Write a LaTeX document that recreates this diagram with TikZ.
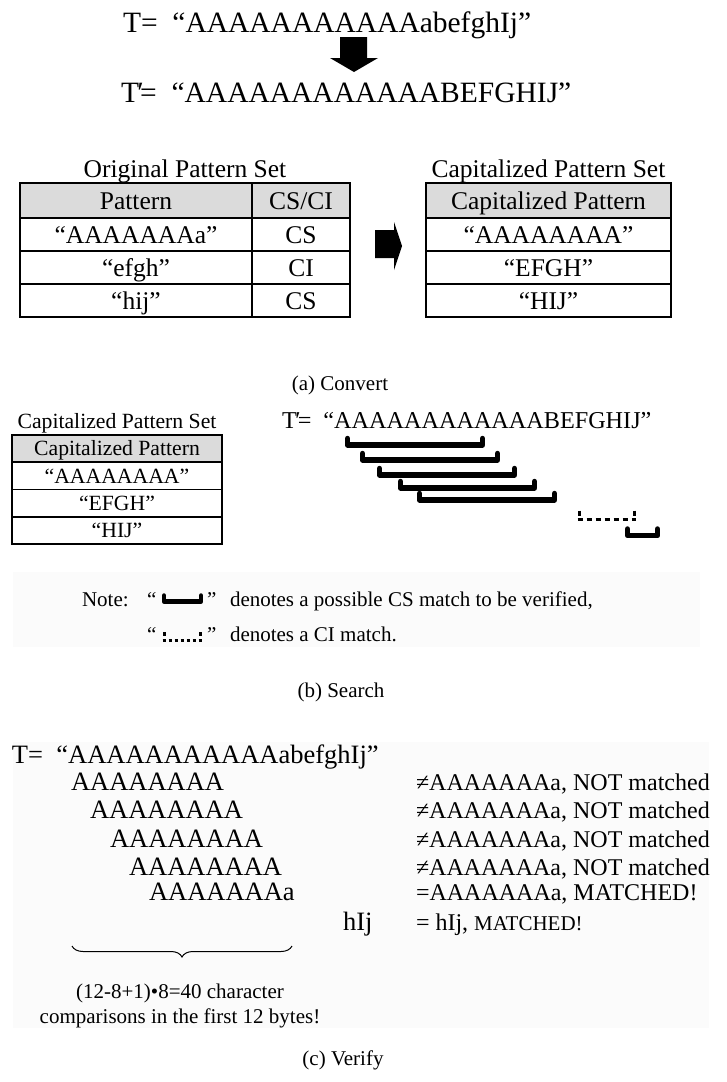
\documentclass[tikz,border=0pt]{standalone}
\usepackage{fontspec}
\setmainfont{Liberation Serif}
\usetikzlibrary{decorations.pathreplacing}
\newcommand\setfs[1]{\fontsize{#1}{#1}\selectfont}
\newcommand\Tprime{T\kern-0.06em′\kern-0.12em}

\begin{document}
\begin{tikzpicture}[x=1pt,y=-1pt,
  lbl/.style={inner sep=0pt, outer sep=0pt, font=\setfs{#1}},
  hdr/.style={fill=black!14},
  panel/.style={fill=black!1.5, draw=none},
  cellA/.style={draw, line width=1.8pt, inner sep=0pt, font=\setfs{25.5}, text height=17pt, text depth=0pt},
  cellB/.style={draw, line width=1.6pt, inner sep=0pt, font=\setfs{21.7}, text height=14.4pt, text depth=0pt, minimum width=210pt, minimum height=27.25pt},
  csmark/.style={line width=5.5pt, line cap=round, line join=round},
  cimark/.style={line width=3pt, dash pattern=on 5pt off 4pt},
  tick/.style={line width=3.5pt},
  blockarrow/.style={fill=black}
]
\useasboundingbox (0,0) rectangle (727,1082);

% faint shaded backgrounds behind the legend and the verification steps
\fill[panel] (13,572) rectangle (700,647);
\fill[panel] (13,742) rectangle (709,1028);

% ---------- (a) Convert ----------
\node[lbl=29.5, anchor=base west] (t1) at (123,32) {T=\hspace{0.5em}“AAAAAAAAAAAabefghIj”};
\fill[blockarrow] (340,37) -- (367,37) -- (367,58) -- (378,58) -- (354,72) -- (330,58) -- (340,58) -- cycle;
\node[lbl=29.5, anchor=base west] (t2) at (121,102) {\Tprime=\hspace{0.5em}“AAAAAAAAAAAABEFGHIJ”};

\node[lbl=25.5, anchor=base] (otitle) at (185,177) {Original Pattern Set};
\node[lbl=25.5, anchor=base] (ctitle) at (548.5,177) {Capitalized Pattern Set};

% original pattern table
\node[cellA, hdr, minimum width=232pt, minimum height=35pt] (ph) at (136,200.5) {Pattern};
\node[cellA, hdr, minimum width=98pt, minimum height=35pt] (ch) at (301,200.5) {CS/CI};
\node[cellA, minimum width=232pt, minimum height=33pt] (p1) at (136,234.5) {“AAAAAAAa”};
\node[cellA, minimum width=98pt, minimum height=33pt] (c1) at (301,234.5) {CS};
\node[cellA, minimum width=232pt, minimum height=33pt] (p2) at (136,267.5) {“efgh”};
\node[cellA, minimum width=98pt, minimum height=33pt] (c2) at (301,267.5) {CI};
\node[cellA, minimum width=232pt, minimum height=33pt] (p3) at (136,300.5) {“hij”};
\node[cellA, minimum width=98pt, minimum height=33pt] (c3) at (301,300.5) {CS};

\fill[blockarrow] (375,230) -- (394,230) -- (394,222) -- (402,246) -- (394,270) -- (394,258) -- (375,258) -- cycle;

% capitalized pattern table
\node[cellA, hdr, minimum width=245pt, minimum height=35pt] (kh) at (548.5,200.5) {Capitalized Pattern};
\node[cellA, minimum width=245pt, minimum height=33pt] (k1) at (548.5,234.5) {“AAAAAAAA”};
\node[cellA, minimum width=245pt, minimum height=33pt] (k2) at (548.5,267.5) {“EFGH”};
\node[cellA, minimum width=245pt, minimum height=33pt] (k3) at (548.5,300.5) {“HIJ”};

\node[lbl=21, anchor=base] (capa) at (340,390) {(a) Convert};

% ---------- (b) Search ----------
\node[lbl=21.7, anchor=base] (btitle) at (117,428) {Capitalized Pattern Set};
\node[cellB, hdr] (bh) at (117,448.6) {Capitalized Pattern};
\node[cellB] (b1) at (117,475.9) {“AAAAAAAA”};
\node[cellB] (b2) at (117,503.1) {“EFGH”};
\node[cellB] (b3) at (117,530.4) {“HIJ”};

\node[lbl=24.2, anchor=base west] (t3) at (282,428) {\Tprime=\hspace{0.5em}“AAAAAAAAAAAABEFGHIJ”};

% CS candidate matches
\draw[csmark] (347.5,438.5) -- (347.5,445) -- (482.5,445) -- (482.5,438.5);
\draw[csmark] (362.5,453.5) -- (362.5,460) -- (497.5,460) -- (497.5,453.5);
\draw[csmark] (379.5,468.5) -- (379.5,475) -- (514.5,475) -- (514.5,468.5);
\draw[csmark] (400.5,481.5) -- (400.5,488) -- (534.5,488) -- (534.5,481.5);
\draw[csmark] (419.5,493.5) -- (419.5,500) -- (554.5,500) -- (554.5,493.5);
% CI match
\draw[tick] (579.5,510.5) -- (579.5,516);
\draw[tick] (634.5,510.5) -- (634.5,516);
\draw[cimark] (577.5,519.5) -- (636,519.5);
\draw[csmark] (627.5,529) -- (627.5,535.5) -- (657.5,535.5) -- (657.5,529);

% legend
\node[lbl=21, anchor=base west] (note) at (82,606) {Note:};
\node[lbl=21, anchor=base west] (q1) at (147,606) {“};
\draw[csmark, line width=4.5pt] (164,595.5) -- (164,601.5) -- (201,601.5) -- (201,595.5);
\node[lbl=21, anchor=base west] (q2) at (207,606) {”};
\node[lbl=21, anchor=base west] (d1) at (230,606) {denotes a possible CS match to be verified,};
\node[lbl=21, anchor=base west] (q3) at (147,641) {“};
\draw[tick, line width=3pt] (164,632) -- (164,636);
\draw[tick, line width=3pt] (200,632) -- (200,636);
\draw[line width=3pt, dash pattern=on 3pt off 3pt] (162.5,640) -- (202,640);
\node[lbl=21, anchor=base west] (q4) at (207,641) {”};
\node[lbl=21, anchor=base west] (d2) at (230,641) {denotes a CI match.};

\node[lbl=21, anchor=base] (capb) at (341,697) {(b) Search};

% ---------- (c) Verify ----------
\node[lbl=26.5, anchor=base west] (t4) at (12,763) {T=\hspace{0.5em}“AAAAAAAAAAAabefghIj”};
\node[lbl=26.5, anchor=base west] (r1) at (71,790) {AAAAAAAA};
\node[lbl=26.5, anchor=base west] (r2) at (90,818) {AAAAAAAA};
\node[lbl=26.5, anchor=base west] (r3) at (110,847) {AAAAAAAA};
\node[lbl=26.5, anchor=base west] (r4) at (129,875) {AAAAAAAA};
\node[lbl=26.5, anchor=base west] (r5) at (149,900) {AAAAAAAa};
\node[lbl=26.5, anchor=base west] (r6) at (343,930) {hIj};
\node[lbl=24, anchor=base west] (s1) at (416,790) {≠AAAAAAAa, NOT matched};
\node[lbl=24, anchor=base west] (s2) at (416,818) {≠AAAAAAAa, NOT matched};
\node[lbl=24, anchor=base west] (s3) at (416,847) {≠AAAAAAAa, NOT matched};
\node[lbl=24, anchor=base west] (s4) at (416,875) {≠AAAAAAAa, NOT matched};
\node[lbl=24, anchor=base west] (s5) at (416,900) {=AAAAAAAa, MATCHED!};
\node[lbl=24, anchor=base west] (s6) at (416,930) {= hIj, {\setfs{21}MATCHED!}};

\draw[line width=1pt, decorate, decoration={brace, mirror, amplitude=11pt}] (72,946) -- (292,946);
\node[lbl=21, anchor=base] (n1) at (180,998) {(12-8+1)•8=40 character};
\node[lbl=21, anchor=base] (n2) at (180,1023) {comparisons in the first 12 bytes!};

\node[lbl=21, anchor=base] (capc) at (343,1065) {(c) Verify};
\end{tikzpicture}
\end{document}
